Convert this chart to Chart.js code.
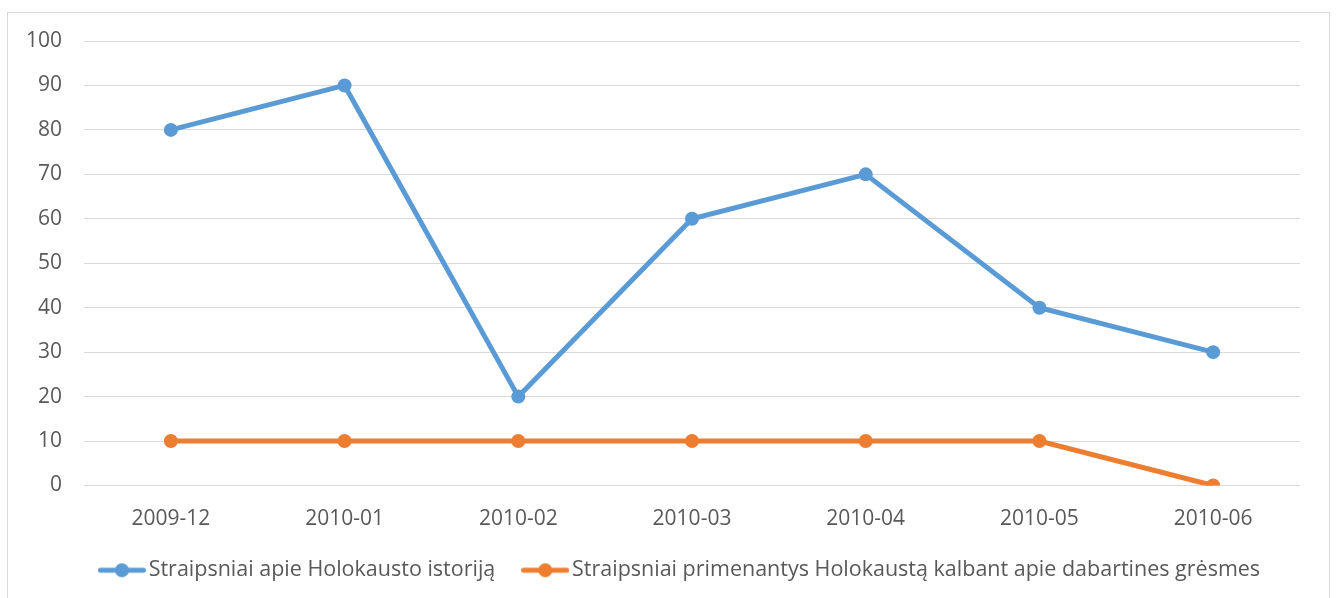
<!DOCTYPE html>
<html>
<head>
<meta charset="utf-8">
<script src="https://cdn.jsdelivr.net/npm/chart.js@4"></script>
<style>
  html, body { margin: 0; padding: 0; background: #fff; }
  #wrap { position: relative; width: 1337px; height: 598px; }
</style>
</head>
<body>
<div id="wrap"><canvas id="lineChart" width="1337" height="598"></canvas></div>
<script>
const months = ["2009-12", "2010-01", "2010-02", "2010-03", "2010-04", "2010-05", "2010-06"];
const historyArticles = [80, 90, 20, 60, 70, 40, 30];
const threatArticles = [10, 10, 10, 10, 10, 10, 0];
const seriesNames = [
    "Straipsniai apie Holokausto istoriją",
    "Straipsniai primenantys Holokaustą kalbant apie dabartines grėsmes"
];

const BLUE = "#5b9bd5";
const ORANGE = "#ed7d31";
const TEXT = "#595959";
const FONT = "'Open Sans', 'Noto Sans', sans-serif";

// legend marker: short line with a dot in the middle
function legendMarker(color) {
    const c = document.createElement("canvas");
    c.width = 48;
    c.height = 16;
    const g = c.getContext("2d");
    g.strokeStyle = color;
    g.lineWidth = 5;
    g.lineCap = "round";
    g.beginPath();
    g.moveTo(2.5, 8);
    g.lineTo(45.5, 8);
    g.stroke();
    g.fillStyle = color;
    g.beginPath();
    g.arc(24, 8, 7, 0, Math.PI * 2);
    g.fill();
    return c;
}

// outer frame like the office chart area border
const framePlugin = {
    id: "frame",
    beforeDraw(chart) {
        const ctx = chart.ctx;
        ctx.save();
        ctx.strokeStyle = "#d9d9d9";
        ctx.lineWidth = 1;
        ctx.strokeRect(7.5, 12.5, 1322, 620);
        ctx.restore();
    },
    // legend in the original is centred on the whole frame, not the plot
    afterLayout(chart) {
        if (chart.legend) {
            chart.legend.left += 33;
            chart.legend.right += 33;
        }
    }
};

const ctx = document.getElementById("lineChart").getContext("2d");
new Chart(ctx, {
    type: "line",
    data: {
        labels: months,
        datasets: [
            {
                label: seriesNames[0],
                data: historyArticles,
                borderColor: BLUE,
                backgroundColor: BLUE,
                borderWidth: 5,
                pointRadius: 7,
                pointStyle: "circle",
                pointBackgroundColor: BLUE,
                pointBorderWidth: 0,
                tension: 0
            },
            {
                label: seriesNames[1],
                data: threatArticles,
                borderColor: ORANGE,
                backgroundColor: ORANGE,
                borderWidth: 5,
                pointRadius: 7,
                pointStyle: "circle",
                pointBackgroundColor: ORANGE,
                pointBorderWidth: 0,
                tension: 0
            }
        ]
    },
    options: {
        responsive: false,
        animation: false,
        layout: { padding: { top: 41, right: 37, left: 0, bottom: 7 } },
        plugins: {
            tooltip: { enabled: false },
            legend: {
                position: "bottom",
                labels: {
                    color: TEXT,
                    font: { family: FONT, size: 21.5 },
                    usePointStyle: true,
                    pointStyleWidth: 32,
                    boxHeight: 14,
                    padding: 34,
                    generateLabels(chart) {
                        return chart.data.datasets.map((ds, i) => ({
                            text: ds.label,
                            fontColor: TEXT,
                            pointStyle: legendMarker(ds.borderColor),
                            lineWidth: 0,
                            strokeStyle: "transparent",
                            fillStyle: ds.borderColor,
                            datasetIndex: i
                        }));
                    }
                }
            }
        },
        scales: {
            x: {
                offset: true,
                grid: { display: false },
                border: { display: false },
                ticks: { color: TEXT, font: { family: FONT, size: 21 }, padding: 13 },
                afterFit(scale) { scale.height = 40; }
            },
            y: {
                min: 0,
                max: 100,
                ticks: { stepSize: 10, color: TEXT, font: { family: FONT, size: 21 }, padding: 22 },
                grid: { color: "#d9d9d9", lineWidth: 1, drawTicks: false },
                border: { display: false },
                afterFit(scale) { scale.width = 84; }
            }
        }
    },
    plugins: [framePlugin]
});
</script>
</body>
</html>
